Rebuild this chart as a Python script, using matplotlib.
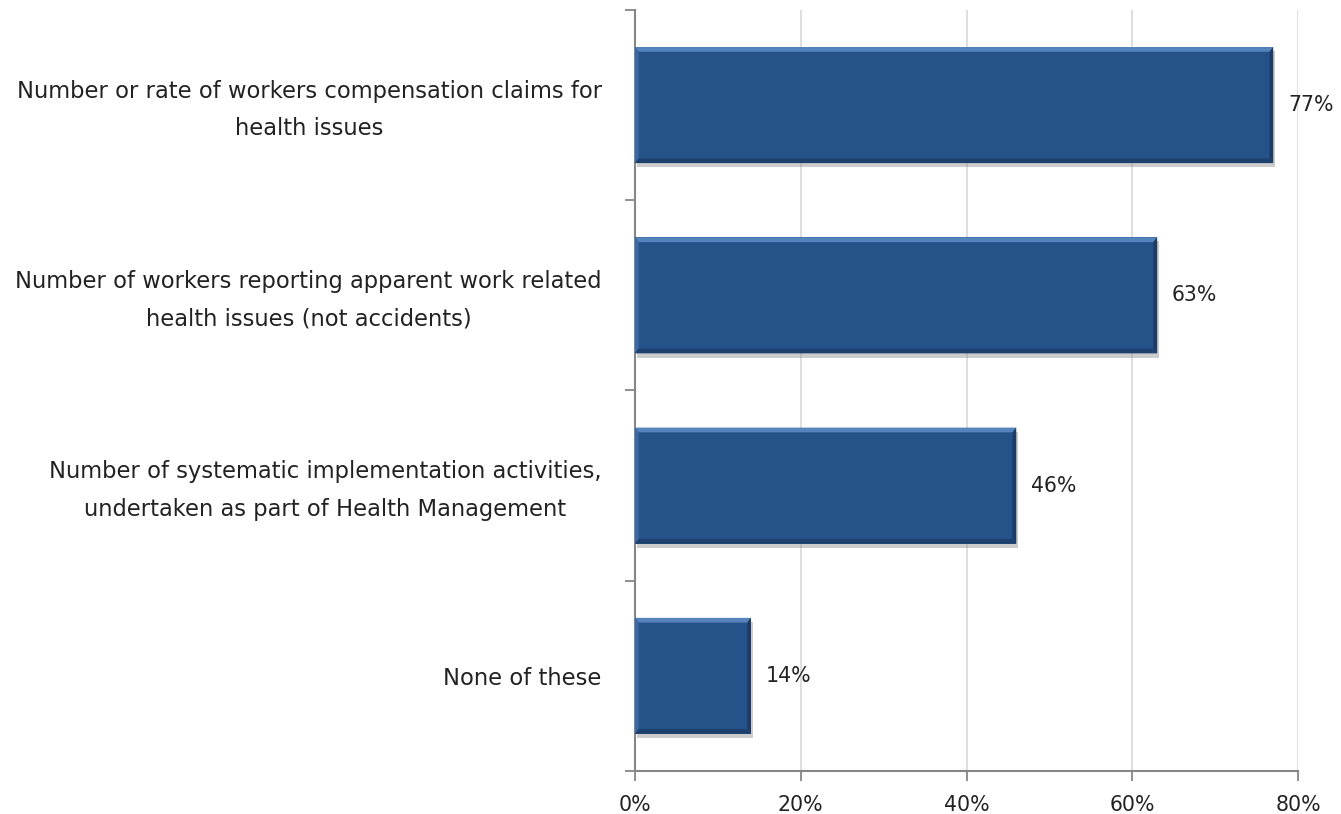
import numpy as np
from matplotlib import pyplot as plt
from matplotlib.patches import Polygon
from matplotlib.transforms import ScaledTranslation
import matplotlib.patheffects as pe

categories = [
    "Number or rate of workers compensation claims for\nhealth issues",
    "Number of workers reporting apparent work related\nhealth issues (not accidents)",
    "Number of systematic implementation activities,\nundertaken as part of Health Management",
    "None of these",
]
values = [77, 63, 46, 14]
xticks = [0, 20, 40, 60, 80]

plt.rcParams["font.family"] = ["DejaVu Sans"]
fs = 16.3
fs_num = 14.8
txt_color = "#222222"

fig = plt.figure(figsize=(13.41, 8.14), dpi=100)
ax = fig.add_axes([0.4735, 0.0528, 0.4945, 0.935])

bar_color = "#26528a"
h = 0.61
y = np.arange(len(values))
bars = ax.barh(y, values, height=h, color=bar_color, zorder=3,
               path_effects=[pe.SimplePatchShadow(offset=(1.5, -3), shadow_rgbFace="#808080", alpha=0.4),
                             pe.Normal()])

# bevel edges
bx = 0.45   # horizontal bevel width in data units
by = 0.025  # vertical bevel height in data units
for yi, v in zip(y, values):
    top, bot = yi - h / 2, yi + h / 2
    ax.add_patch(Polygon([(0, top), (v, top), (v - bx, top + by), (bx, top + by)],
                         closed=True, color="#5583bb", zorder=4, lw=0))
    ax.add_patch(Polygon([(0, top), (bx, top + by), (bx, bot - by), (0, bot)],
                         closed=True, color="#3a68a2", zorder=4, lw=0))
    ax.add_patch(Polygon([(v, top), (v, bot), (v - bx, bot - by), (v - bx, top + by)],
                         closed=True, color="#1b3c66", zorder=4, lw=0))
    ax.add_patch(Polygon([(0, bot), (v, bot), (v - bx, bot - by), (bx, bot - by)],
                         closed=True, color="#1d416e", zorder=4, lw=0))
    ax.text(v + 1.8, yi, f"{v}%", va="center", ha="left", fontsize=fs_num, color=txt_color)

ax.set_xlim(0, 80)
ax.set_ylim(len(values) - 0.5, -0.5)
ax.set_xticks(xticks)
ax.set_xticklabels([f"{t}%" for t in xticks], fontsize=fs_num, color=txt_color)
ax.set_yticks(y)
ax.set_yticklabels(categories, fontsize=fs, color=txt_color,
                   multialignment="center", linespacing=1.8)
ax.set_yticks(np.arange(len(values) + 1) - 0.5, minor=True)

ax.tick_params(axis="y", which="major", length=0, pad=24)
ax.tick_params(axis="y", which="minor", length=7, width=1.3, color="#868686", direction="out")
ax.tick_params(axis="x", length=7, width=1.3, color="#868686", pad=10)

# nudge two-line category labels up a little
shift = ScaledTranslation(0, 5 / 100, fig.dpi_scale_trans)
for lab in ax.get_yticklabels():
    if "\n" in lab.get_text():
        lab.set_transform(lab.get_transform() + shift)

ax.grid(axis="x", color="#d9d9d9", lw=1.2, zorder=0)
ax.set_axisbelow(True)
for s in ["top", "right"]:
    ax.spines[s].set_visible(False)
for s in ["left", "bottom"]:
    ax.spines[s].set_color("#868686")
    ax.spines[s].set_linewidth(1.5)

fig.savefig("out.png", dpi=100)
